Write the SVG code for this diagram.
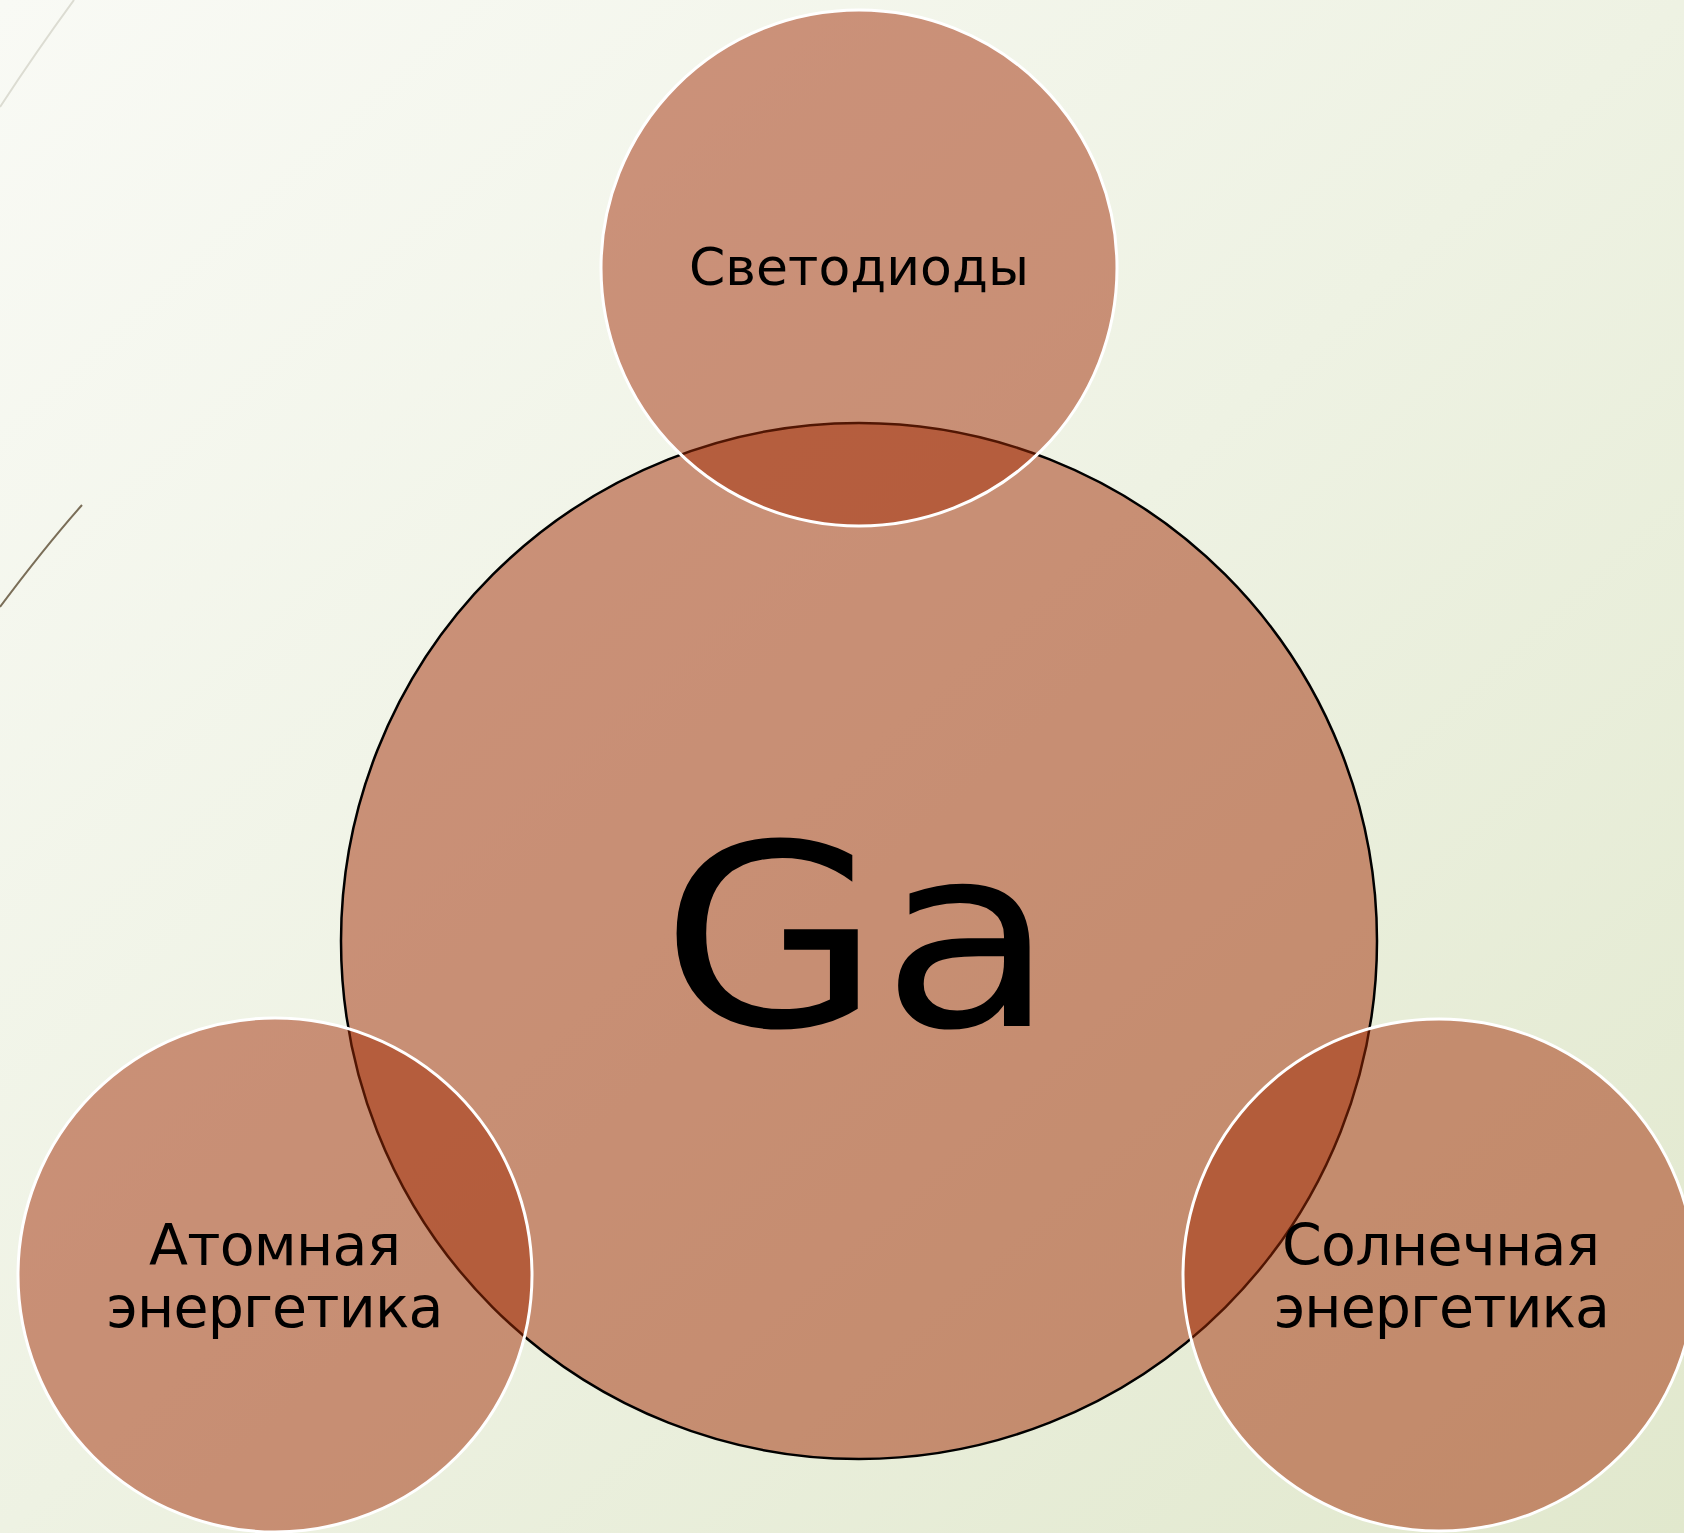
<svg xmlns="http://www.w3.org/2000/svg" width="1684" height="1533" viewBox="0 0 1684 1533">
  <defs>
    <linearGradient id="bg" x1="0" y1="0" x2="1" y2="1">
      <stop offset="0" stop-color="#F9FAF5"/>
      <stop offset="0.5" stop-color="#EEF2E3"/>
      <stop offset="1" stop-color="#E1E8CD"/>
    </linearGradient>
    <style>
      .center { fill: rgb(162,43,5); fill-opacity: 0.5; stroke: #000; stroke-width: 2.5; }
      .sat { fill: rgb(162,43,5); fill-opacity: 0.5; stroke: #fff; stroke-width: 3; }
      .lbl { font-family: "DejaVu Sans", "Liberation Sans", sans-serif; fill: #000; text-anchor: middle; }
    </style>
  </defs>
  <rect width="1684" height="1533" fill="url(#bg)"/>
  <g id="decor" fill="none">
    <path d="M0,107 Q36,52 74,0" stroke="#DCDCD2" stroke-width="2"/>
    <path d="M0,607 Q44,548 82,505" stroke="#7A6E58" stroke-width="2"/>
  </g>
  <g id="connectors"></g>
  <g id="node-ga">
    <circle class="center" cx="859" cy="941" r="518"/>
    <text class="lbl" transform="translate(858,1026) scale(1.12,1)" x="0" y="0" font-size="254">Ga</text>
  </g>
  <g id="node-led">
    <circle class="sat" cx="859" cy="268" r="258"/>
    <text class="lbl" x="859" y="285" font-size="52" textLength="340">Светодиоды</text>
  </g>
  <g id="node-nuclear">
    <circle class="sat" cx="275" cy="1275" r="257"/>
    <text class="lbl" x="275" y="1265" font-size="57" textLength="252">Атомная</text>
    <text class="lbl" x="275" y="1327" font-size="57" textLength="337">энергетика</text>
  </g>
  <g id="node-solar">
    <circle class="sat" cx="1439" cy="1275" r="256"/>
    <text class="lbl" x="1441" y="1265" font-size="57" textLength="318">Солнечная</text>
    <text class="lbl" x="1442" y="1327" font-size="57" textLength="336">энергетика</text>
  </g>
</svg>
